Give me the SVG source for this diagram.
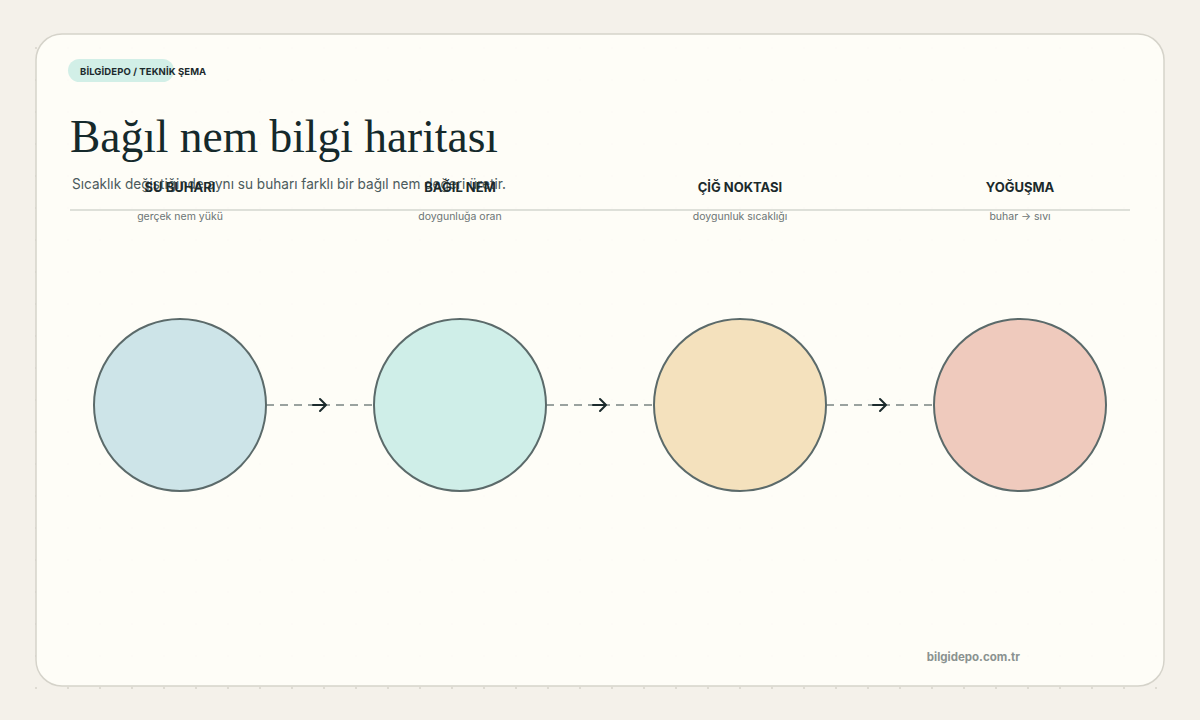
<svg xmlns="http://www.w3.org/2000/svg" width="1200" height="720" viewBox="0 0 1200 720">
  <defs>
    <pattern id="dots" x="4" y="16" width="32" height="32" patternUnits="userSpaceOnUse">
      <circle cx="0" cy="0" r="1.1" fill="#d9d6cd"/>
      <circle cx="32" cy="0" r="1.1" fill="#d9d6cd"/>
      <circle cx="0" cy="32" r="1.1" fill="#d9d6cd"/>
      <circle cx="32" cy="32" r="1.1" fill="#d9d6cd"/>
    </pattern>
    <marker id="mid" viewBox="-10 -10 20 20" markerWidth="20" markerHeight="20" markerUnits="userSpaceOnUse" orient="auto" refX="0" refY="0">
      <path d="M-7 0 L6 0 M0 -6 L6 0 L0 6" fill="none" stroke="#1b2a2c" stroke-width="2" stroke-linecap="round" stroke-linejoin="round"/>
    </marker>
    <style>
      .head{font-family:"Inter","Liberation Sans",sans-serif;font-weight:700;font-size:13px;fill:#1b2a2c;text-anchor:middle}
      .sub{font-family:"Inter","Liberation Sans",sans-serif;font-size:10.5px;fill:#6b7474;text-anchor:middle}
      .node{stroke:#5b6a6a;stroke-width:2}
      .conn{fill:none;stroke:#9aa29f;stroke-width:2;stroke-dasharray:8 6}
    </style>
  </defs>
  <rect width="1200" height="720" fill="#f4f1ea"/>
  <rect x="34" y="32" width="1132" height="660" fill="url(#dots)"/>
  <rect x="36" y="34" width="1128" height="652" rx="26" fill="#fefdf8" fill-opacity="0.95" stroke="#d5d3ca" stroke-width="1.5"/>

  <g id="badge">
    <rect x="68" y="59" width="106" height="23" rx="11.5" fill="#d2efe7"/>
    <text x="80" y="74.5" font-family="Inter,'Liberation Sans',sans-serif" font-size="9.5" font-weight="700" letter-spacing="0.1" fill="#1b2a2c">BİLGİDEPO / TEKNİK ŞEMA</text>
  </g>
  <g id="title">
    <text x="70" y="152" font-family="'Liberation Serif',serif" font-size="47" fill="#15292b" textLength="428" lengthAdjust="spacingAndGlyphs">Bağıl nem bilgi haritası</text>
    <text x="72" y="189" font-family="Inter,'Liberation Sans',sans-serif" font-size="14.5" fill="#4c5b5d" textLength="434" lengthAdjust="spacingAndGlyphs">Sıcaklık değiştiğinde aynı su buharı farklı bir bağıl nem değeri üretir.</text>
    <line x1="70" y1="210" x2="1130" y2="210" stroke="#d3d6cf" stroke-width="1.5"/>
  </g>

  <g id="connectors">
    <path class="conn" d="M266 405 L320 405 L374 405" marker-mid="url(#mid)"/>
    <path class="conn" d="M546 405 L600 405 L654 405" marker-mid="url(#mid)"/>
    <path class="conn" d="M826 405 L880 405 L934 405" marker-mid="url(#mid)"/>
  </g>

  <g id="node-su-buhari">
    <text class="head" x="180" y="192">SU BUHARI</text>
    <text class="sub" x="180" y="220">gerçek nem yükü</text>
    <circle class="node" cx="180" cy="405" r="86" fill="#cde4e8"/>
  </g>
  <g id="node-bagil-nem">
    <text class="head" x="460" y="192">BAĞIL NEM</text>
    <text class="sub" x="460" y="220">doygunluğa oran</text>
    <circle class="node" cx="460" cy="405" r="86" fill="#cfeee8"/>
  </g>
  <g id="node-cig-noktasi">
    <text class="head" x="740" y="192">ÇİĞ NOKTASI</text>
    <text class="sub" x="740" y="220">doygunluk sıcaklığı</text>
    <circle class="node" cx="740" cy="405" r="86" fill="#f4e1bd"/>
  </g>
  <g id="node-yogusma">
    <text class="head" x="1020" y="192">YOĞUŞMA</text>
    <text class="sub" x="1020" y="220">buhar → sıvı</text>
    <circle class="node" cx="1020" cy="405" r="86" fill="#efcabd"/>
  </g>

  <text x="1020" y="661" text-anchor="end" font-family="Inter,'Liberation Sans',sans-serif" font-size="11.5" font-weight="700" fill="#8a9290">bilgidepo.com.tr</text>
</svg>
